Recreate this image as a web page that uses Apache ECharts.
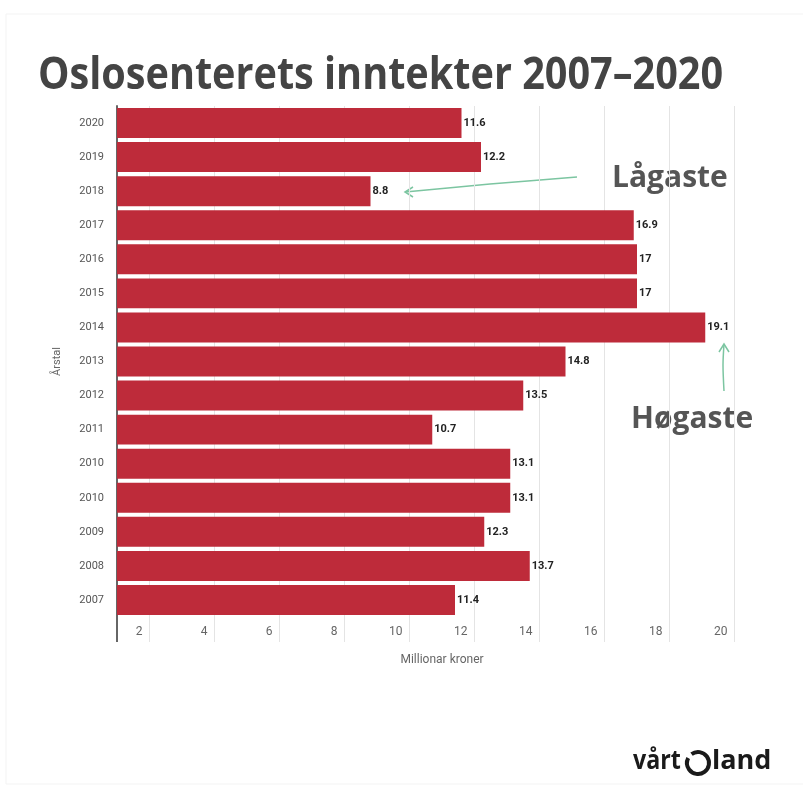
<!DOCTYPE html>
<html>
<head>
<meta charset="utf-8">
<script src="https://cdn.jsdelivr.net/npm/echarts@6/dist/echarts.min.js"></script>
<style>
  html, body { margin: 0; padding: 0; background: #fff; }
  #chart { width: 803px; height: 789px; }
</style>
</head>
<body>
<div id="chart"></div>
<script>
// år frå toppen og ned
const years = ['2020', '2019', '2018', '2017', '2016', '2015', '2014', '2013',
  '2012', '2011', '2010', '2010', '2009', '2008', '2007'];
const income = [11.6, 12.2, 8.8, 16.9, 17, 17, 19.1, 14.8, 13.5, 10.7, 13.1, 13.1, 12.3, 13.7, 11.4];
const xTicks = [2, 4, 6, 8, 10, 12, 14, 16, 18, 20];

const green = '#7cc5a1';
const titleFont = "'Open Sans', 'Noto Sans', sans-serif";

const option = {
  backgroundColor: '#fff',
  animation: false,
  textStyle: { fontFamily: 'Roboto, sans-serif' },
  grid: { left: 117, right: 36, top: 106, bottom: 172, containLabel: false },
  xAxis: [
    {
      type: 'value',
      min: 1,
      max: 21,
      name: 'Millionar kroner',
      nameLocation: 'middle',
      nameGap: 37,
      nameTextStyle: { color: '#666', fontSize: 12 },
      axisLine: { show: false },
      axisTick: { show: true, customValues: xTicks, length: 25, lineStyle: { color: '#e4e4e4' } },
      axisLabel: { customValues: xTicks, color: '#666', fontSize: 12, align: 'right', padding: [0, 7, 0, 0], margin: 9 },
      splitLine: { show: true, lineStyle: { color: '#e4e4e4', width: 1 } }
    },
    {
      // forlenging av y-aksen under stolpane
      type: 'value',
      min: 1,
      max: 21,
      position: 'bottom',
      axisLine: { show: false },
      axisTick: { show: true, customValues: [1], length: 25, lineStyle: { color: '#666', width: 2 } },
      axisLabel: { show: false },
      splitLine: { show: false }
    }
  ],
  yAxis: {
    type: 'category',
    inverse: true,
    data: years,
    name: 'Årstal',
    nameLocation: 'middle',
    nameGap: 54,
    nameRotate: 90,
    nameTextStyle: { color: '#666', fontSize: 11 },
    axisLine: { show: true, lineStyle: { color: '#666', width: 2 } },
    axisTick: { show: false },
    axisLabel: { color: '#555', fontSize: 11, margin: 13 }
  },
  series: [{
    type: 'bar',
    data: income,
    barCategoryGap: '12%',
    itemStyle: { color: '#be2b3a' },
    label: {
      show: true,
      position: 'right',
      distance: 2,
      color: '#222',
      fontSize: 11,
      fontWeight: 'bold'
    }
  }],
  graphic: [
    {
      type: 'rect', silent: true, z: -10,
      shape: { x: 6, y: 14, width: 800, height: 770 },
      style: { fill: 'none', stroke: '#f3f3f3', lineWidth: 1 }
    },
    {
      type: 'text', left: 38, top: 54, scaleX: 0.9,
      style: { text: 'Oslosenterets inntekter 2007–2020', font: 'bold 44px ' + titleFont, fill: '#444' }
    },
    {
      type: 'text', x: 612, y: 163,
      style: { text: 'Lågaste', font: 'bold 30px ' + titleFont, fill: '#555' }
    },
    {
      type: 'text', x: 631, y: 404,
      style: { text: 'Høgaste', font: 'bold 30px ' + titleFont, fill: '#555' }
    },
    // piler
    {
      type: 'polyline',
      shape: { points: [[577, 177], [490, 184], [405, 192]], smooth: 0.3 },
      style: { stroke: green, lineWidth: 1.5, fill: 'none' }
    },
    {
      type: 'polyline',
      shape: { points: [[413, 187], [405, 192], [413, 197]] },
      style: { stroke: green, lineWidth: 1.5, fill: 'none' }
    },
    {
      type: 'polyline',
      shape: { points: [[724, 391], [723, 365], [724, 344]], smooth: 0.3 },
      style: { stroke: green, lineWidth: 1.5, fill: 'none' }
    },
    {
      type: 'polyline',
      shape: { points: [[719, 352], [724, 344], [729, 352]] },
      style: { stroke: green, lineWidth: 1.5, fill: 'none' }
    },
    // logo
    {
      type: 'text', x: 633, y: 748, scaleX: 0.86,
      style: { text: 'vårt', font: 'bold 27px ' + titleFont, fill: '#1a1a1a' }
    },
    {
      type: 'arc',
      shape: { cx: 698, cy: 763, r: 11, startAngle: -Math.PI * 0.7, endAngle: Math.PI * 1.15 },
      style: { stroke: '#1a1a1a', lineWidth: 4, fill: 'none' }
    },
    {
      type: 'text', x: 712, y: 748,
      style: { text: 'land', font: 'bold 27px ' + titleFont, fill: '#1a1a1a' }
    }
  ]
};

const myChart = echarts.init(document.getElementById('chart'));
myChart.setOption(option);
</script>
</body>
</html>
